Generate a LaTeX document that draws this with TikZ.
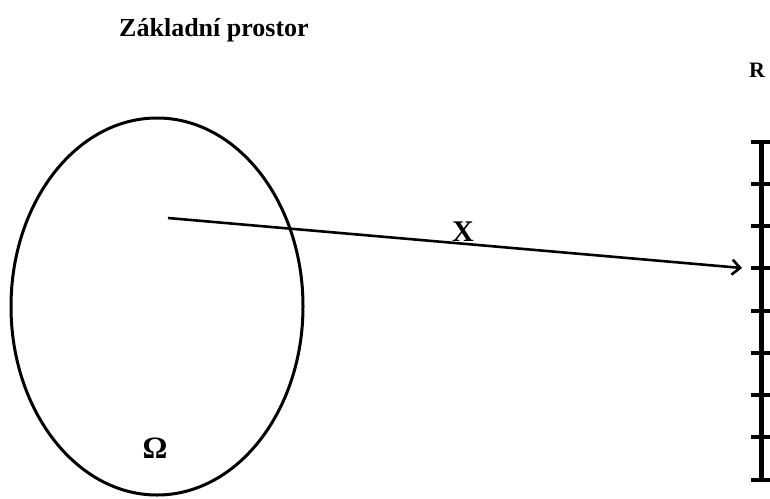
\documentclass[tikz,border=0pt]{standalone}
\usepackage{fontspec}
\setmainfont{Liberation Serif}
\usetikzlibrary{arrows.meta}

\begin{document}
\begin{tikzpicture}[x=1pt, y=-1pt,
  label/.style={font=\bfseries\fontsize{26}{28}\selectfont, inner sep=0pt},
  biglabel/.style={label, font=\bfseries\fontsize{31}{33}\selectfont},
  set/.style={line width=3pt},
  map/.style={line width=2.6pt, -{Straight Barb[length=8pt, width=15pt, line width=2.6pt]}},
  axis/.style={line width=4.5pt},
  tick/.style={line width=4pt}]
\useasboundingbox (0,0) rectangle (770,498);
% title
\node[label] (title) at (214,30) {Základní prostor};
% sample space
\draw[set] (157,306.5) ellipse [x radius=146, y radius=188.5];
\node[biglabel] (omega) at (155,448) {Ω};
% real line with ticks
\node[label, font=\bfseries\fontsize{22}{24}\selectfont] (real) at (757,70) {R};
\coordinate (top) at (761.5,142);
\coordinate (bot) at (761.5,480);
\draw[axis] (top) -- (bot);
\foreach \y in {142,184,226,268,311,353,395,437,480}{
  \draw[tick] (751,\y) -- (771,\y);
}
% random variable X
\coordinate (w) at (168,218);
\coordinate (xw) at (742,268);
\draw[map] (w) -- (xw);
\node[biglabel, font=\bfseries\fontsize{30}{32}\selectfont] (X) at (463,232) {X};
\end{tikzpicture}
\end{document}
